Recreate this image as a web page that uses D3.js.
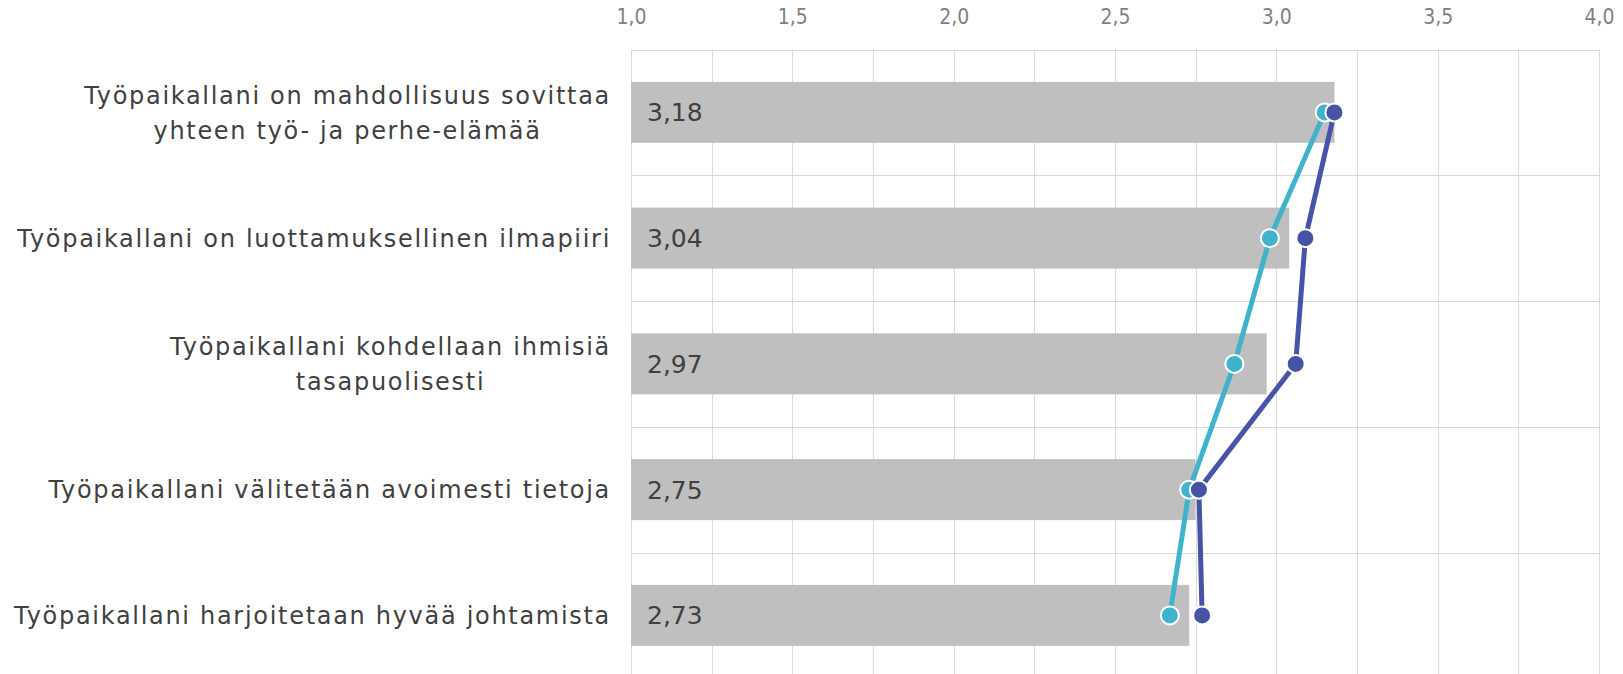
<!DOCTYPE html>
<html>
<head>
<meta charset="utf-8">
<script src="https://cdn.jsdelivr.net/npm/d3@7"></script>
<style>
  body { margin: 0; background: #fff; }
  svg { display: block; }
</style>
</head>
<body>
<div id="chart"></div>
<script>
// data
var categories = [
  "Työpaikallani on mahdollisuus sovittaa\nyhteen työ- ja perhe-elämää",
  "Työpaikallani on luottamuksellinen ilmapiiri",
  "Työpaikallani kohdellaan ihmisiä\ntasapuolisesti",
  "Työpaikallani välitetään avoimesti tietoja",
  "Työpaikallani harjoitetaan hyvää johtamista"
];
var barValues = [3.18, 3.04, 2.97, 2.75, 2.73];
var lightValues = [3.15, 2.98, 2.87, 2.73, 2.67];
var darkValues = [3.18, 3.09, 3.06, 2.76, 2.77];
var tickValues = [1.0, 1.5, 2.0, 2.5, 3.0, 3.5, 4.0];
var gridValues = d3.range(1, 4.001, 0.25);

var W = 1623, H = 674;
var plotLeft = 631, plotRight = 1599, plotTop = 49.5, step = 125.75;

var fi = d3.formatLocale({ decimal: ",", thousands: " ", grouping: [3], currency: ["", " €"] });
var fmt2 = fi.format(".2f"), fmt1 = fi.format(".1f");

var x = d3.scaleLinear().domain([1, 4]).range([plotLeft, plotRight]);
var y = d3.scaleBand().domain(d3.range(categories.length))
  .range([plotTop, plotTop + step * categories.length])
  .paddingInner(0.515).paddingOuter(0.2575);

var svg = d3.select('#chart').append('svg')
  .attr('width', W).attr('height', H);

// gridlines
svg.append('g').selectAll('line').data(gridValues).enter().append('line')
  .attr('x1', function (d) { return Math.round(x(d)) + 0.5; })
  .attr('x2', function (d) { return Math.round(x(d)) + 0.5; })
  .attr('y1', plotTop).attr('y2', H)
  .attr('stroke', '#d9d9d9').attr('stroke-width', 1);

var hLines = d3.range(categories.length);
svg.append('g').selectAll('line').data(hLines).enter().append('line')
  .attr('x1', plotLeft).attr('x2', plotRight)
  .attr('y1', function (d) { return Math.round(plotTop + d * step) + 0.5; })
  .attr('y2', function (d) { return Math.round(plotTop + d * step) + 0.5; })
  .attr('stroke', '#d9d9d9').attr('stroke-width', 1);

// top axis
var axis = d3.axisTop(x).tickValues(tickValues).tickFormat(fmt1).tickSize(0);
var ax = svg.append('g').attr('transform', 'translate(0,27)').call(axis);
ax.select('.domain').remove();
ax.selectAll('text')
  .attr('fill', '#808080')
  .attr('dy', 0)
  .style('font-family', '"DejaVu Sans Condensed", "DejaVu Sans", sans-serif')
  .style('font-stretch', 'condensed')
  .style('font-size', '21px');

// bars
svg.append('g').selectAll('rect').data(barValues).enter().append('rect')
  .attr('x', x(1))
  .attr('y', function (d, i) { return y(i); })
  .attr('width', function (d) { return x(d) - x(1); })
  .attr('height', y.bandwidth())
  .attr('fill', '#bfbfbf');

// value labels
svg.append('g').selectAll('text').data(barValues).enter().append('text')
  .attr('x', x(1) + 16)
  .attr('y', function (d, i) { return y(i) + y.bandwidth() / 2; })
  .attr('dy', '0.36em')
  .attr('fill', '#404040')
  .style('font-family', '"DejaVu Sans", sans-serif')
  .style('font-size', '25px')
  .text(function (d) { return fmt2(d); });

// category labels
var cy = function (i) { return y(i) + y.bandwidth() / 2; };
var lab = svg.append('g').selectAll('g').data(categories).enter().append('g');
lab.each(function (d, i) {
  var g = d3.select(this);
  var lines = d.split('\n');
  var t = g.selectAll('text').data(lines).enter().append('text')
    .attr('fill', '#404040')
    .style('font-family', '"DejaVu Sans", Verdana, sans-serif')
    .style('font-size', '24px')
    .style('letter-spacing', '1.7px')
    .attr('y', function (l, j) { return cy(i) + (j - (lines.length - 1) / 2) * 35; })
    .attr('dy', '0.36em')
    .text(function (l) { return l; });
  var maxW = 0;
  t.each(function () { maxW = Math.max(maxW, this.getComputedTextLength()); });
  t.attr('text-anchor', 'middle').attr('x', 611 - maxW / 2);
});

// series lines and markers
var line = d3.line()
  .x(function (d) { return x(d); })
  .y(function (d, i) { return cy(i); });

function series(vals, color) {
  svg.append('path').datum(vals)
    .attr('d', line)
    .attr('fill', 'none')
    .attr('stroke', color)
    .attr('stroke-width', 5)
    .attr('stroke-linejoin', 'round');
  svg.append('g').selectAll('circle').data(vals).enter().append('circle')
    .attr('cx', function (d) { return x(d); })
    .attr('cy', function (d, i) { return cy(i); })
    .attr('r', 9)
    .attr('fill', color)
    .attr('stroke', '#fff')
    .attr('stroke-width', 2);
}
series(lightValues, '#40b3cc');
series(darkValues, '#4753a6');
</script>
</body>
</html>
